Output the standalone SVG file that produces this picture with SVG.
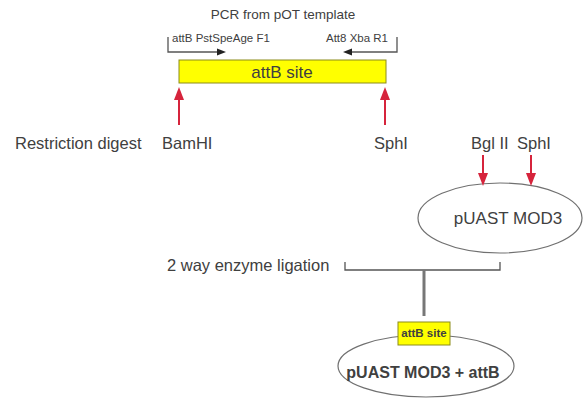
<svg xmlns="http://www.w3.org/2000/svg" width="584" height="400" viewBox="0 0 584 400">
  <style>
    text { font-family: "Liberation Sans", Arial, sans-serif; fill: #404040; }
    .lbl { font-size: 16.5px; }
    .primer { font-size: 11.5px; }
    .bracket { fill: none; stroke: #555; stroke-width: 1.3; }
    .cut { stroke: #d6243c; stroke-width: 2; fill: none; }
    .cuthead { fill: #d6243c; }
    .site { fill: #ffff00; stroke: #8c8c1a; stroke-width: 1; }
    .plasmid { fill: #ffffff; stroke: #707070; stroke-width: 1.2; }
  </style>

  <!-- PCR product -->
  <g id="pcr-title">
    <text x="283" y="19" font-size="13.5" text-anchor="middle">PCR from pOT template</text>
  </g>

  <g id="primer-forward">
    <text class="primer" x="172" y="42">attB PstSpeAge F1</text>
    <path class="bracket" d="M168,37 V52 H219"/>
    <polygon fill="#222" points="226,52 217,48.5 217,55.5"/>
  </g>

  <g id="primer-reverse">
    <text class="primer" x="388" y="42" text-anchor="end">Att8 Xba R1</text>
    <path class="bracket" d="M397,37 V52 H350"/>
    <polygon fill="#222" points="343,52 352,48.5 352,55.5"/>
  </g>

  <g id="attb-site">
    <rect class="site" x="179" y="60" width="207" height="23"/>
    <text x="282" y="78" font-size="17" text-anchor="middle">attB site</text>
  </g>

  <!-- Restriction digest -->
  <g id="digest-label">
    <text class="lbl" x="15" y="149">Restriction digest</text>
  </g>
  <g id="bamhi">
    <text class="lbl" x="162" y="149">BamHI</text>
  </g>
  <g id="sphi-insert">
    <text class="lbl" x="374" y="149">SphI</text>
  </g>
  <g id="bglii">
    <text class="lbl" x="471" y="149">Bgl II</text>
  </g>
  <g id="sphi-vector">
    <text class="lbl" x="517" y="149">SphI</text>
  </g>

  <g id="puast-mod3">
    <ellipse class="plasmid" cx="500" cy="218" rx="82" ry="35"/>
    <text x="508" y="224" font-size="17" text-anchor="middle">pUAST MOD3</text>
  </g>

  <g id="ligation-label">
    <text class="lbl" x="167" y="271">2 way enzyme ligation</text>
  </g>

  <g id="puast-mod3-attb">
    <ellipse class="plasmid" cx="426" cy="366" rx="88" ry="31"/>
    <text x="423" y="378" font-size="16" font-weight="bold" text-anchor="middle">pUAST MOD3 + attB</text>
    <rect class="site" x="398" y="322" width="52" height="23"/>
    <text x="424" y="337" font-size="11.5" font-weight="bold" text-anchor="middle">attB site</text>
  </g>

  <!-- Connectors: cut-site arrows and ligation bracket -->
  <g id="connectors">
    <line class="cut" x1="179" y1="125" x2="179" y2="99"/>
    <polygon class="cuthead" points="179,87 174,100 184,100"/>
    <line class="cut" x1="385" y1="125" x2="385" y2="99"/>
    <polygon class="cuthead" points="385,87 380,100 390,100"/>

    <line class="cut" x1="483" y1="155" x2="483" y2="174"/>
    <polygon class="cuthead" points="483,186 478,173 488,173"/>
    <line class="cut" x1="531" y1="155" x2="531" y2="174"/>
    <polygon class="cuthead" points="531,186 526,173 536,173"/>

    <path class="bracket" d="M345,262 V270 H500 V262" stroke-width="1.6"/>
    <line x1="424" y1="270" x2="424" y2="316" stroke="#777" stroke-width="3"/>
  </g>
</svg>
